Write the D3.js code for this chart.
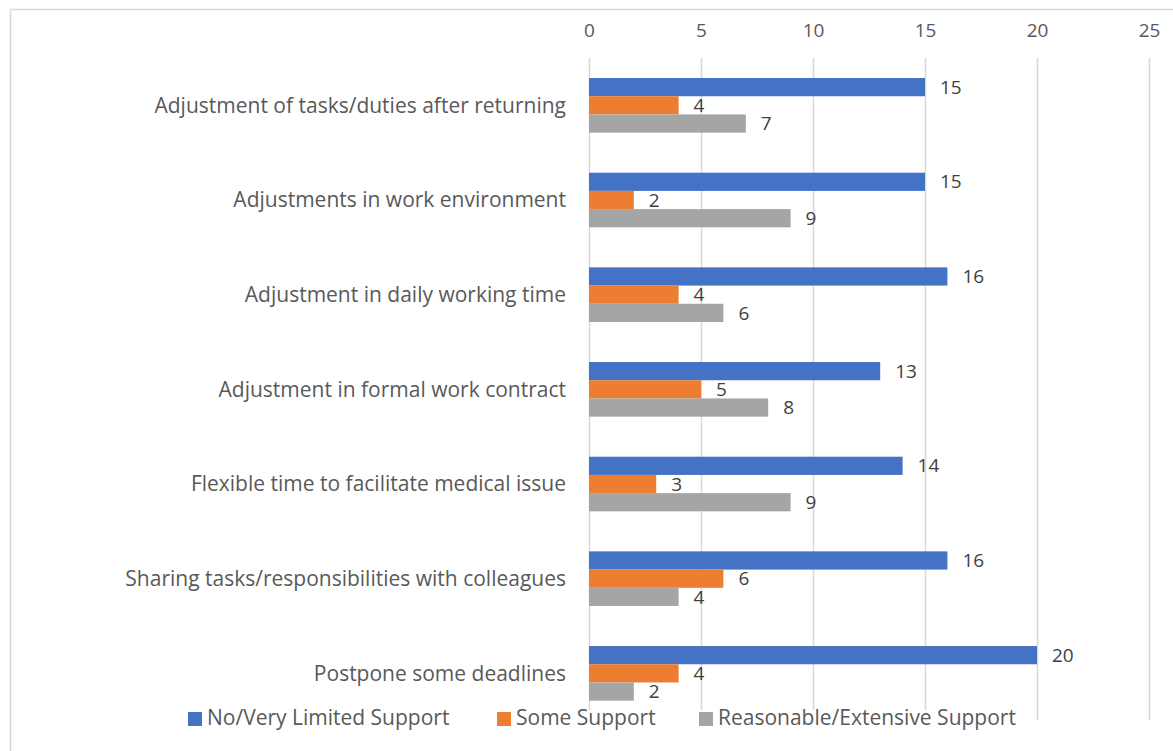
<!DOCTYPE html>
<html><head><meta charset="utf-8">
<script src="https://cdn.jsdelivr.net/npm/d3@7"></script>
<style>body{margin:0;background:#fff;} svg{display:block;}</style>
</head><body>
<script>
const categories = [
  "Adjustment of tasks/duties after returning",
  "Adjustments in work environment",
  "Adjustment in daily working time",
  "Adjustment in formal work contract",
  "Flexible time to facilitate medical issue",
  "Sharing tasks/responsibilities with colleagues",
  "Postpone some deadlines"
];
const seriesNames = ["No/Very Limited Support", "Some Support", "Reasonable/Extensive Support"];
const noSupport = [15, 15, 16, 13, 14, 16, 20];
const someSupport = [4, 2, 4, 5, 3, 6, 4];
const extensiveSupport = [7, 9, 6, 8, 9, 4, 2];
const tickValues = [0, 5, 10, 15, 20, 25];
const colors = ["#4472C4", "#ED7D31", "#A5A5A5"];

const W = 1173, H = 751;
const svg = d3.select("body").append("svg").attr("width", W).attr("height", H);
const font = "'Open Sans', 'Noto Sans', sans-serif";
const textColor = "#595959";

svg.append("rect").attr("x", 10.5).attr("y", 9.5).attr("width", W + 10).attr("height", H + 10)
  .attr("fill", "none").attr("stroke", "#D9D9D9").attr("stroke-width", 1.5);

const x = d3.scaleLinear().domain([0, 25]).range([589, 1149]);
const y = d3.scaleBand().domain(categories).range([58, 720.7]).paddingInner(0.423).paddingOuter(0.2115);
const series = [noSupport, someSupport, extensiveSupport];
const ySub = d3.scaleBand().domain(d3.range(3)).range([0, y.bandwidth()]);

// gridlines
svg.append("g").selectAll("line").data(tickValues).join("line")
  .attr("x1", d => x(d) + 0.5).attr("x2", d => x(d) + 0.5)
  .attr("y1", 58).attr("y2", 720)
  .attr("stroke", "#D9D9D9").attr("stroke-width", 1.5);

// top axis
const axis = d3.axisTop(x).tickValues(tickValues).tickSize(0).tickPadding(0);
const ax = svg.append("g").attr("transform", "translate(0,30)").call(axis);
ax.select(".domain").remove();
ax.selectAll("text").attr("dy", "0.35em").attr("font-family", font).attr("font-size", 19).attr("fill", textColor);

// category labels
svg.append("g").selectAll("text").data(categories).join("text")
  .attr("x", 566).attr("y", d => y(d) + y.bandwidth() / 2)
  .attr("dy", "0.35em").attr("text-anchor", "end")
  .attr("font-family", font).attr("font-size", 21).attr("fill", textColor)
  .text(d => d);

// bars
series.forEach((vals, si) => {
  const g = svg.append("g");
  g.selectAll("rect").data(categories).join("rect")
    .attr("x", x(0)).attr("y", (c) => y(c) + ySub(si))
    .attr("width", (c, i) => x(vals[i]) - x(0)).attr("height", ySub.bandwidth())
    .attr("fill", colors[si]);
  g.selectAll("text").data(categories).join("text")
    .attr("x", (c, i) => x(vals[i]) + 15)
    .attr("y", c => y(c) + ySub(si) + ySub.bandwidth() / 2)
    .attr("dy", "0.35em")
    .attr("font-family", font).attr("font-size", 19).attr("fill", "#404040")
    .text((c, i) => vals[i]);
});

// legend
svg.append("rect").attr("x", 184).attr("y", 710).attr("width", 836).attr("height", 22).attr("fill", "#fff");
const legendX = [188, 497, 699];
const lg = svg.append("g");
seriesNames.forEach((n, i) => {
  lg.append("rect").attr("x", legendX[i]).attr("y", 712).attr("width", 14).attr("height", 14).attr("fill", colors[i]);
  lg.append("text").attr("x", legendX[i] + 19).attr("y", 718).attr("dy", "0.35em")
    .attr("font-family", font).attr("font-size", 21).attr("fill", textColor).text(n);
});
</script>
</body></html>
